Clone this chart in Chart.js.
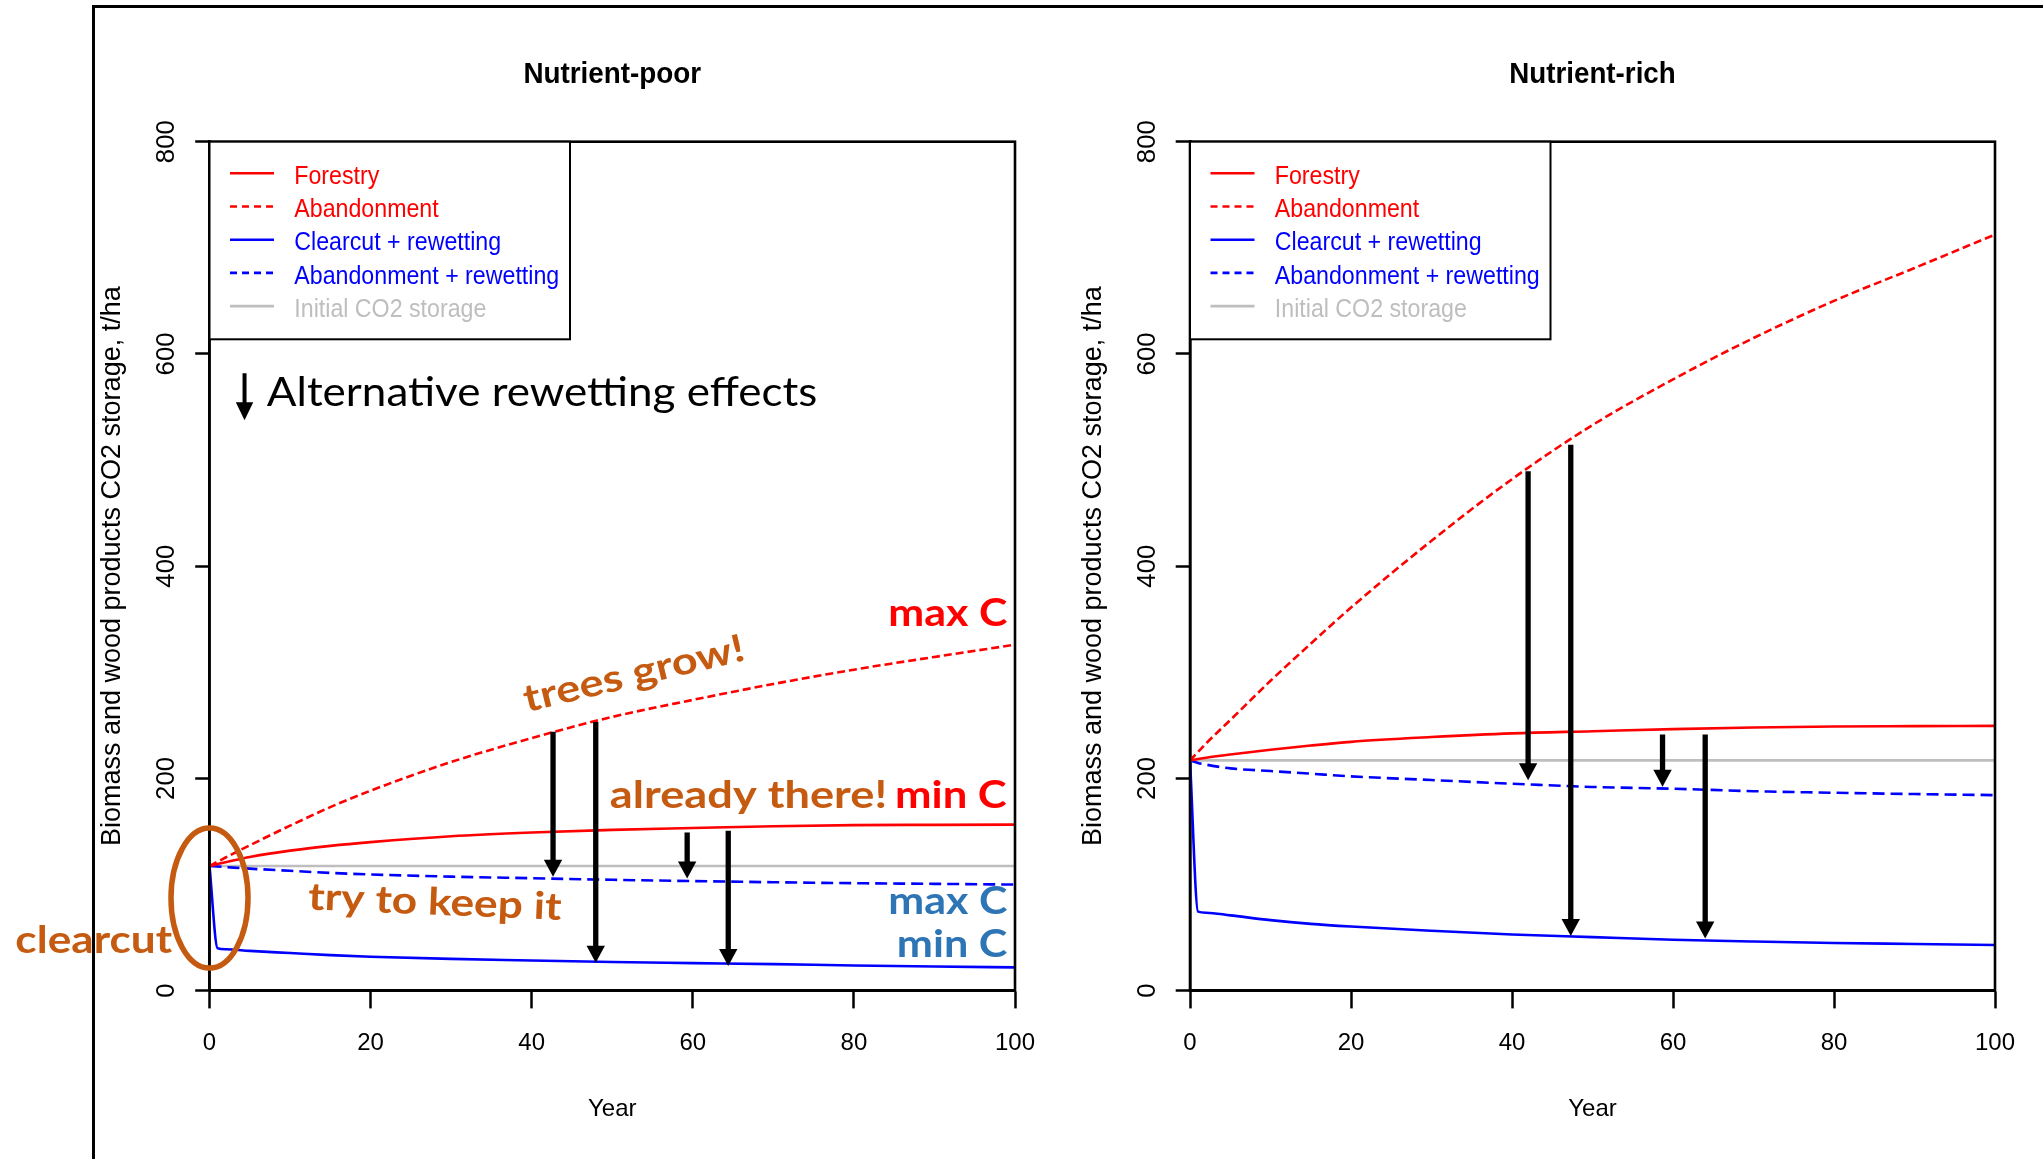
<!DOCTYPE html>
<html><head><meta charset="utf-8">
<script src="https://cdn.jsdelivr.net/npm/chart.js@4/dist/chart.umd.min.js"></script>
<style>
html,body{margin:0;padding:0;background:#fff;}
body{width:2043px;height:1159px;position:relative;overflow:hidden;}
canvas{position:absolute;left:0;top:0;}
#frame{position:absolute;left:91.5px;top:4.8px;width:2100px;height:2100px;border-top:3px solid #000;border-left:3px solid #000;}
</style></head><body>
<div id="frame"></div>
<canvas id="poor" width="2043" height="1159"></canvas>
<canvas id="rich" width="2043" height="1159"></canvas>
<script>
// ---------------- data ----------------
const years = [0,1,2,5,10,15,20,30,40,50,60,70,80,90,100];

const poorForestry   = [117.5,119.3,121,126,132,136.5,140,145.5,149,151.5,153.3,155,156,156.3,156.5];
const poorAbandon    = [117.5,121.5,125.5,137,155.5,173,188.5,215.5,238,258,274,289,302.5,314.5,326];
const poorClearcut   = [117.5,40,39,37.5,35.5,33.5,32,30,28.5,27,26,25,23.8,22.8,22];
const poorAbandonRew = [117.5,117,116.5,115,113,111,109.5,107.5,106,104.5,103.3,102.2,101.3,100.7,100];
const poorInitial    = 117.5;

const richForestry   = [217,218.3,219.5,222.5,227,231,234.5,239,242.5,244.5,246.5,248,249,249.3,249.5];
const richAbandon    = [217,225,233,255,292,327,361,424,482,533,576,615,650,681,712.5];
const richClearcut   = [217,74.5,73.5,71,66.5,63,60.5,56.5,53,50.5,48,46.3,45,44,43];
const richAbandonRew = [217,214.5,213,209.5,207,204.5,202,198.5,195,192,190.3,188,186.5,185.3,184.3];
const richInitial    = 217;

// arrows (year, start value, tip value)
const poorArrowYears = [42.65,47.95,59.3,64.4];
const poorArrowFrom  = [243.9,253.3,149.1,150.7];
const poorArrowTo    = [107.3,26.4,105.8,23.3];
const richArrowYears = [42.0,47.3,58.7,64.0];
const richArrowFrom  = [489.4,514.5,241.4,241.4];
const richArrowTo    = [198.4,51.5,192.1,49.3];

const seriesLabels = ['Forestry','Abandonment','Clearcut + rewetting','Abandonment + rewetting','Initial CO2 storage'];
const xTicks = [0,20,40,60,80,100];
const xTickLabels = ['0','20','40','60','80','100'];
const yTicks = [0,200,400,600,800];
const yTickLabels = ['0','200','400','600','800'];

// ---------------- styles ----------------
const RED='#FF0000', BLUE='#0000FF', GRAY='#BEBEBE', ORANGE='#C55A11', SBLUE='#2E75B6';
const seriesColors = [RED,RED,BLUE,BLUE,GRAY];
const seriesDash = [[],[8,4],[],[12,6],[]];
const legendDash = [[],[7,5],[],[7,5],[]];
const SANS = '"Liberation Sans",Arial,sans-serif';
const W = 2043, H = 1159, AREA_T = 141.7, AREA_B = 990.7, YAXIS_W = 120;
Chart.defaults.font.family = SANS;
Chart.defaults.color = '#000';

const poorNotes = [
  {text:'Alternative rewetting effects', x:7.12, y:550.6, w:550.5, font:'41px Lato', color:'#000', align:'left', rot:0},
  {text:'max C', x:99.05, y:343.4, w:119, font:'bold 38px Lato', color:RED, align:'right', rot:0},
  {text:'trees grow!', x:39.4, y:262.4, w:226, font:'bold 38px Lato', color:ORANGE, align:'left', rot:-13.4},
  {text:'already there!', x:49.7, y:172, w:277.3, font:'bold 38px Lato', color:ORANGE, align:'left', rot:0},
  {text:'min C', x:98.97, y:172, w:111.7, font:'bold 38px Lato', color:RED, align:'right', rot:0},
  {text:'try to keep it', x:12.2, y:76.6, w:253.4, font:'bold 38px Lato', color:ORANGE, align:'left', rot:2.4},
  {text:'max C', x:99.05, y:72.2, w:119, font:'bold 38px Lato', color:SBLUE, align:'right', rot:0},
  {text:'min C', x:99.05, y:32, w:110.6, font:'bold 38px Lato', color:SBLUE, align:'right', rot:0},
  {text:'clearcut', x:-24.1, y:35.2, w:156.7, font:'bold 38px Lato', color:ORANGE, align:'left', rot:0}
];

function drawArrow(ctx, x, y1, y2, lw, hw, hl) {
  ctx.save();
  ctx.strokeStyle = '#000'; ctx.fillStyle = '#000'; ctx.lineWidth = lw; ctx.lineCap = 'butt'; ctx.setLineDash([]);
  ctx.beginPath(); ctx.moveTo(x, y1); ctx.lineTo(x, y2 - hl + 1); ctx.stroke();
  ctx.beginPath(); ctx.moveTo(x - hw, y2 - hl); ctx.lineTo(x + hw, y2 - hl); ctx.lineTo(x, y2); ctx.closePath(); ctx.fill();
  ctx.restore();
}

function fitText(ctx, n, px, py) {
  ctx.save();
  ctx.font = n.font; ctx.fillStyle = n.color;
  ctx.textBaseline = n.baseline || 'alphabetic'; ctx.textAlign = n.align;
  const sx = n.w / ctx.measureText(n.text).width;
  ctx.translate(px, py);
  if (n.rot) ctx.rotate(n.rot * Math.PI / 180);
  ctx.scale(sx, 1);
  ctx.fillText(n.text, 0, 0);
  ctx.restore();
}

function makePlugin(p) {
  return {
    id: 'rplot_' + p.id,
    afterDatasetsDraw(chart) {
      const ctx = chart.ctx, a = chart.chartArea, sx = chart.scales.x, sy = chart.scales.y;
      // panel title (condensed, like the R device)
      fitText(ctx, {text: p.title, font: 'bold 30px ' + SANS, color: '#000', align: 'center', baseline: 'middle', w: p.titleW},
              (a.left + a.right) / 2, 74.4);
      // plot box
      ctx.save();
      ctx.strokeStyle = '#000'; ctx.lineWidth = 2.6; ctx.setLineDash([]);
      ctx.strokeRect(a.left, a.top, a.right - a.left, a.bottom - a.top);
      ctx.restore();
      // arrows
      p.arrowYears.forEach((yr, i) => {
        drawArrow(ctx, sx.getPixelForValue(yr), sy.getPixelForValue(p.arrowFrom[i]), sy.getPixelForValue(p.arrowTo[i]), 5.3, 9.2, 17);
      });
      // annotations
      if (p.notes) {
        p.notes.forEach(n => fitText(ctx, n, sx.getPixelForValue(n.x), sy.getPixelForValue(n.y)));
        drawArrow(ctx, sx.getPixelForValue(4.35), sy.getPixelForValue(581.8), sy.getPixelForValue(537.5), 4, 8.7, 18);
        ctx.save();
        ctx.strokeStyle = ORANGE; ctx.lineWidth = 5.5;
        ctx.beginPath();
        ctx.ellipse(sx.getPixelForValue(0), sy.getPixelForValue(87.3), 38.5, 70, 0, 0, Math.PI * 2);
        ctx.stroke();
        ctx.restore();
      }
      // legend
      const lx = a.left, ly = a.top, lw = 360.5, lh = 197.6;
      ctx.save();
      ctx.fillStyle = '#fff'; ctx.fillRect(lx, ly, lw, lh);
      ctx.strokeStyle = '#000'; ctx.lineWidth = 2; ctx.strokeRect(lx, ly, lw, lh);
      chart.data.datasets.forEach((d, i) => {
        const yy = ly + 31.6 + i * 33.2;
        ctx.strokeStyle = seriesColors[i]; ctx.lineWidth = 2.6; ctx.setLineDash(legendDash[i]);
        ctx.beginPath(); ctx.moveTo(lx + 20.5, yy); ctx.lineTo(lx + 64.5, yy); ctx.stroke();
        ctx.setLineDash([]);
        ctx.save();
        ctx.font = '25.6px ' + SANS; ctx.fillStyle = seriesColors[i]; ctx.textAlign = 'left'; ctx.textBaseline = 'alphabetic';
        ctx.translate(lx + 84.8, yy + 10.7); ctx.scale(0.906, 1);
        ctx.fillText(d.label, 0, 0);
        ctx.restore();
      });
      ctx.restore();
    }
  };
}

function build(p) {
  const mk = (i, vals) => ({
    label: seriesLabels[i],
    data: years.map((x, k) => ({x, y: vals[k]})),
    borderColor: seriesColors[i], backgroundColor: seriesColors[i],
    borderWidth: 2.6, borderDash: seriesDash[i], pointRadius: 0, fill: false,
    cubicInterpolationMode: 'monotone'
  });
  const datasets = [mk(0, p.forestry), mk(1, p.abandon), mk(2, p.clearcut), mk(3, p.abandonRew),
    {label: seriesLabels[4], data: [{x: 0, y: p.initial}, {x: 100, y: p.initial}],
     borderColor: GRAY, backgroundColor: GRAY, borderWidth: 2.6, pointRadius: 0, fill: false}];
  return new Chart(document.getElementById(p.id), {
    type: 'line',
    data: {datasets},
    options: {
      responsive: false, animation: false, devicePixelRatio: 1,
      layout: {padding: {left: p.axisL - YAXIS_W, right: W - p.axisR, top: AREA_T, bottom: 0}},
      plugins: {legend: {display: false}, tooltip: {enabled: false}, title: {display: false}},
      scales: {
        x: {type: 'linear', min: 0, max: 100, position: 'bottom',
            afterBuildTicks: s => { s.ticks = xTicks.map(v => ({value: v})); },
            afterFit: s => { s.height = H - AREA_B; },
            grid: {display: true, drawOnChartArea: false, drawTicks: true, tickLength: 17.7, tickWidth: 2.5, tickColor: '#000'},
            border: {display: true, color: '#000', width: 2.6},
            ticks: {color: '#000', padding: 20.8, autoSkip: false, maxRotation: 0, minRotation: 0,
                    font: {family: SANS, size: 24},
                    callback: v => xTickLabels[xTicks.indexOf(v)]},
            title: {display: true, text: 'Year', color: '#000', font: {family: SANS, size: 24}, padding: {top: 0, bottom: 34.8}}},
        y: {type: 'linear', min: 0, max: 800, position: 'left',
            afterBuildTicks: s => { s.ticks = yTicks.map(v => ({value: v})); },
            afterFit: s => { s.width = YAXIS_W; },
            grid: {display: true, drawOnChartArea: false, drawTicks: true, tickLength: 14.3, tickWidth: 2.5, tickColor: '#000'},
            border: {display: true, color: '#000', width: 2.6},
            ticks: {color: '#000', padding: 6.7, autoSkip: false, minRotation: 90, maxRotation: 90, crossAlign: 'center',
                    font: {family: SANS, size: 25.8},
                    callback: v => yTickLabels[yTicks.indexOf(v)]},
            title: {display: true, text: 'Biomass and wood products CO2 storage, t/ha', color: '#000',
                    font: {family: SANS, size: 27}, padding: {top: 7.3, bottom: 0}}}
      }
    },
    plugins: [makePlugin(p)]
  });
}

build({id: 'poor', title: 'Nutrient-poor', titleW: 177.7, axisL: 209.5, axisR: 1015,
       forestry: poorForestry, abandon: poorAbandon, clearcut: poorClearcut, abandonRew: poorAbandonRew, initial: poorInitial,
       arrowYears: poorArrowYears, arrowFrom: poorArrowFrom, arrowTo: poorArrowTo, notes: poorNotes});
build({id: 'rich', title: 'Nutrient-rich', titleW: 166.4, axisL: 1190, axisR: 1995,
       forestry: richForestry, abandon: richAbandon, clearcut: richClearcut, abandonRew: richAbandonRew, initial: richInitial,
       arrowYears: richArrowYears, arrowFrom: richArrowFrom, arrowTo: richArrowTo, notes: null});
</script></body></html>
